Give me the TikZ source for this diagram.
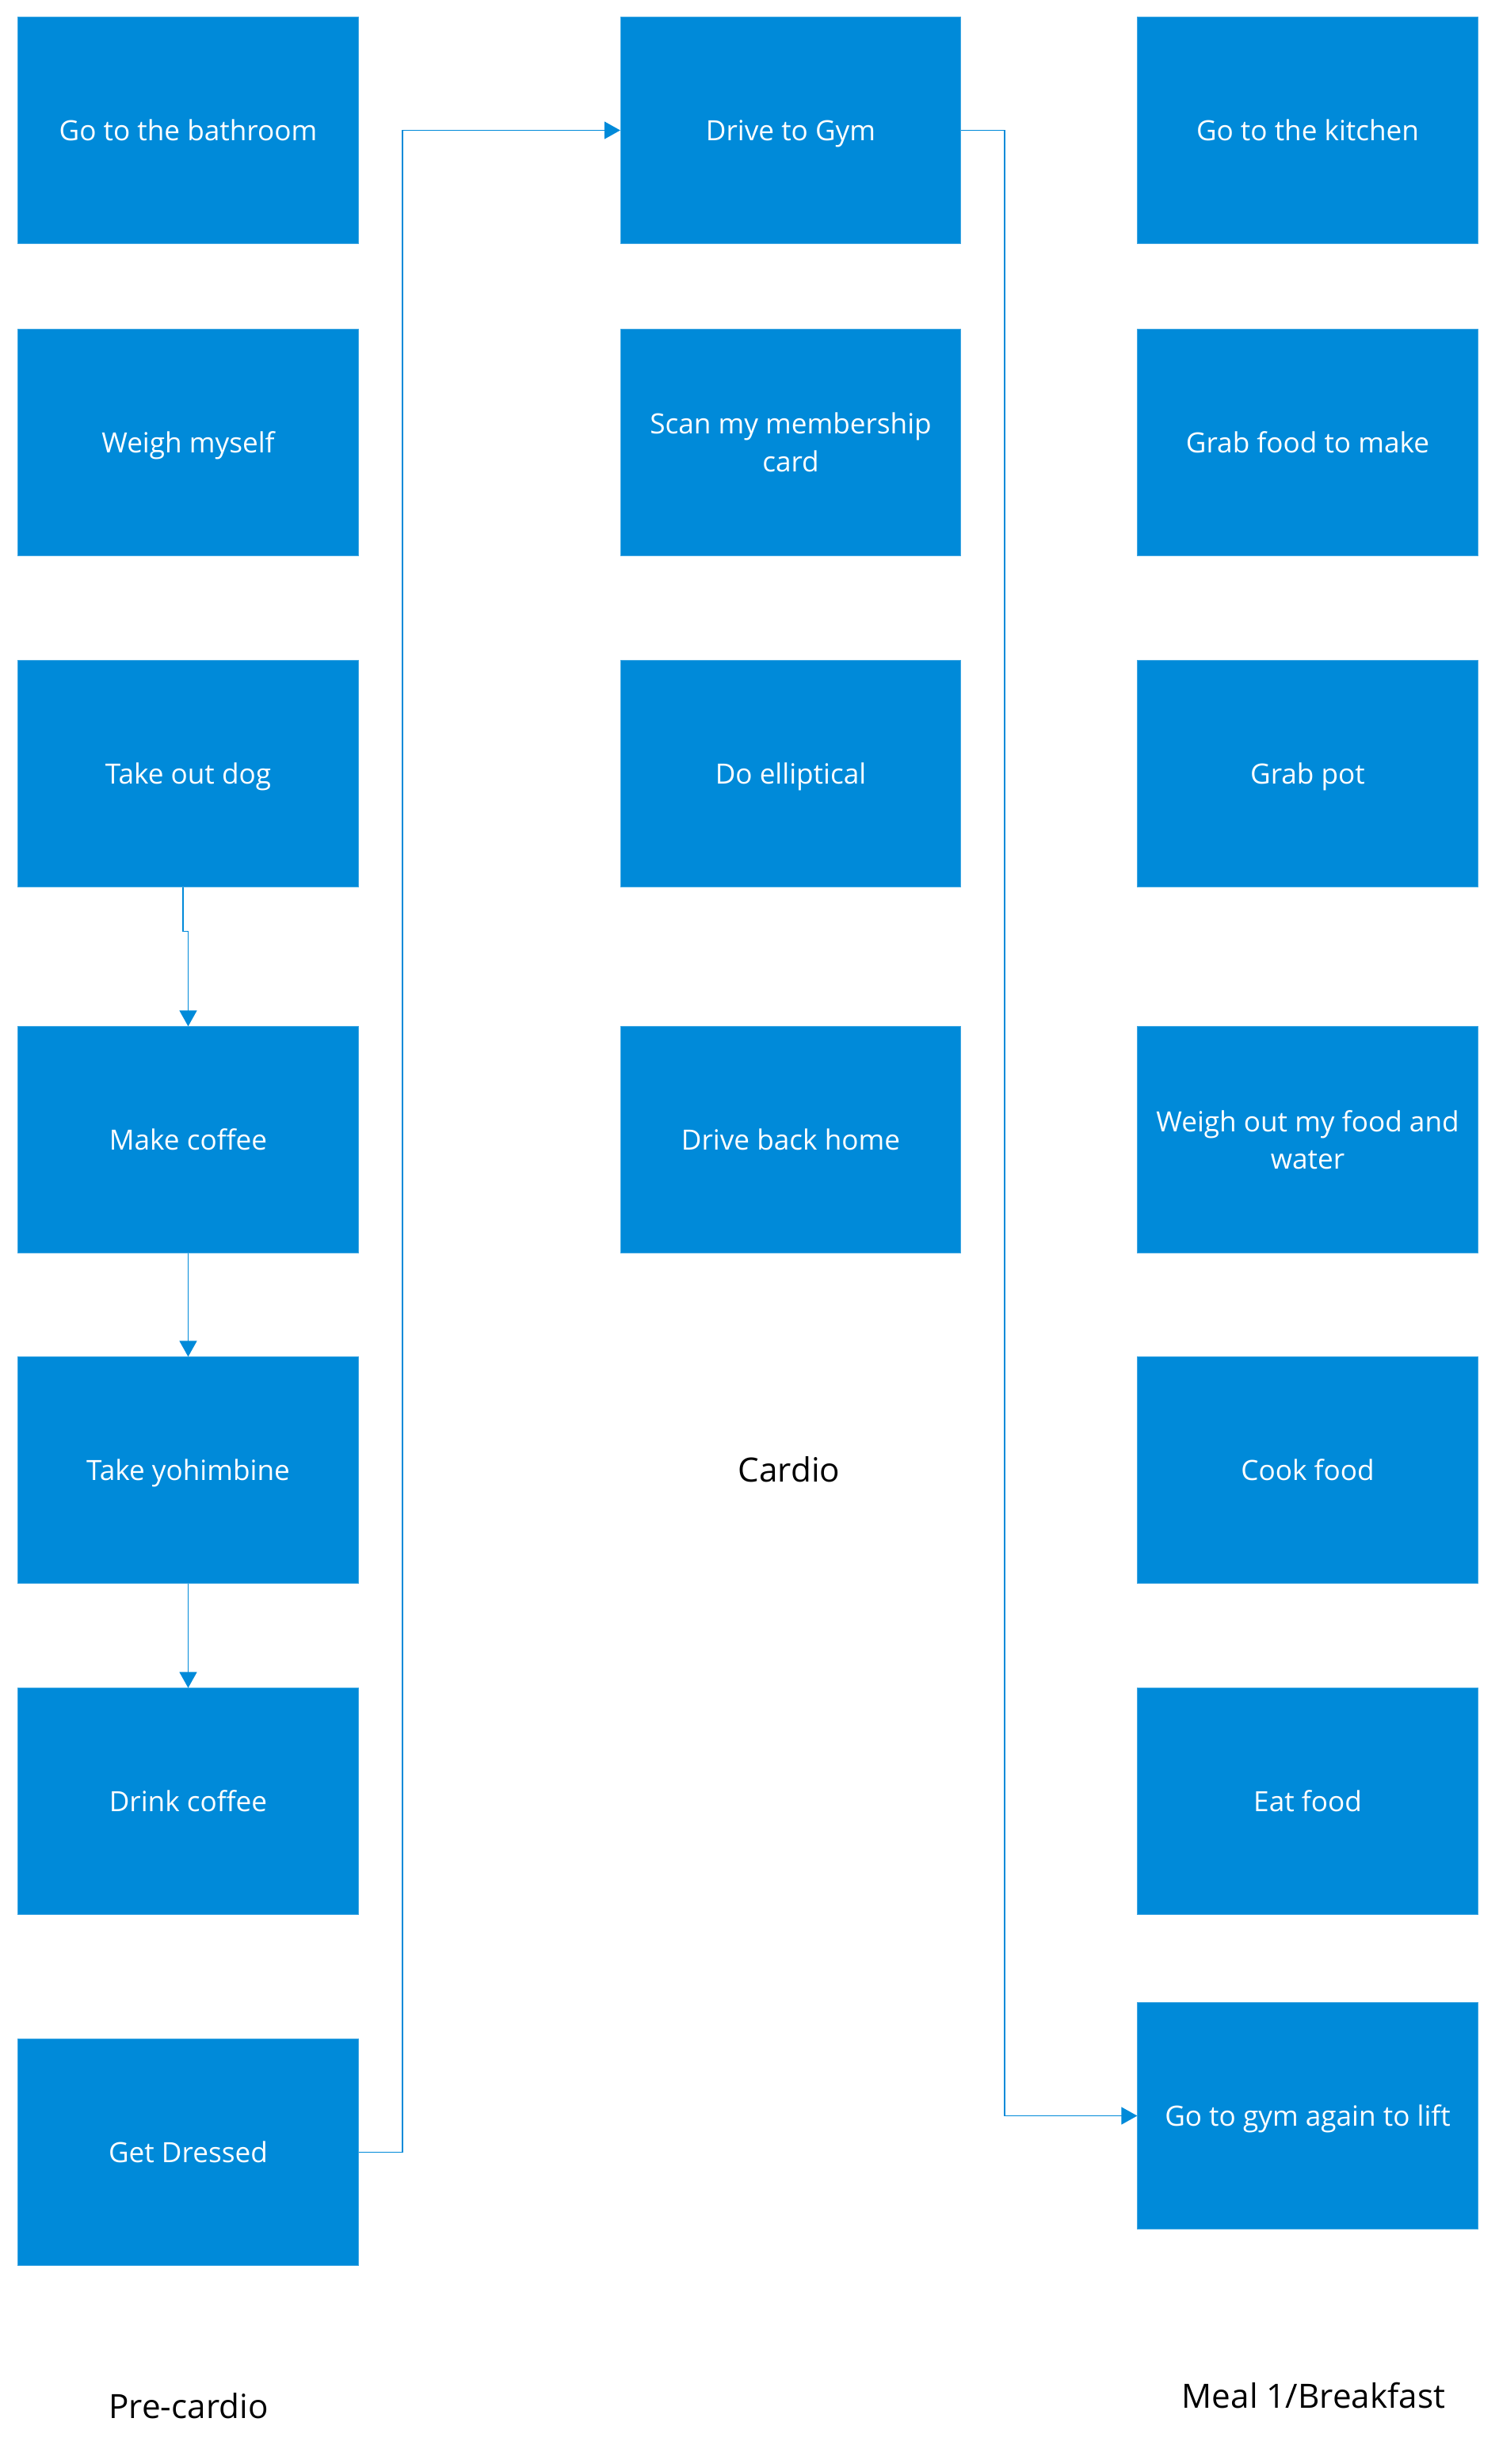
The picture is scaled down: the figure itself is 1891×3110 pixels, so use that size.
\documentclass[tikz,border=0pt]{standalone}
\usepackage{fontspec}
\setmainfont{Open Sans}
\usetikzlibrary{arrows.meta}
\definecolor{taskblue}{RGB}{0,138,217}

\begin{document}
\begin{tikzpicture}[x=0.01cm,y=-0.01cm,
    task/.style={fill=taskblue,draw=taskblue!75!white,line width=0.3pt,text=white,
      minimum width=4.29cm,minimum height=2.85cm,inner sep=0pt,align=center,
      font=\fontsize{10pt}{13.5pt}\selectfont},
    oneline/.style={task,text height=0.74em,text depth=0pt},
    conn/.style={draw=taskblue,line width=0.4pt,-{Triangle[width=0.22cm,length=0.2cm]}},
    phase/.style={font=\fontsize{12pt}{14pt}\selectfont}]
    \useasboundingbox (0,0) rectangle (1891,3110);

    % Pre-cardio
    \node[oneline] (bath) at (237.5,164.5) {Go to the bathroom};
    \node[oneline] (weigh) at (237.5,558.5) {Weigh myself};
    \node[oneline] (dog) at (237.5,976.5) {Take out dog};
    \node[oneline] (coffee) at (237.5,1438.5) {Make coffee};
    \node[oneline] (yohim) at (237.5,1855.5) {Take yohimbine};
    \node[oneline] (drink) at (237.5,2273.5) {Drink coffee};
    \node[oneline] (dress) at (237.5,2716.5) {Get Dressed};

    % Cardio
    \node[oneline] (gym) at (998,164.5) {Drive to Gym};
    \node[task] (scan) at (998,558.5) {Scan my membership\\card};
    \node[oneline] (ellip) at (998,976.5) {Do elliptical};
    \node[oneline] (home) at (998,1438.5) {Drive back home};

    % Meal 1/Breakfast
    \node[oneline] (kitchen) at (1650.5,164.5) {Go to the kitchen};
    \node[oneline] (grab) at (1650.5,558.5) {Grab food to make};
    \node[oneline] (pot) at (1650.5,976.5) {Grab pot};
    \node[task] (weighfood) at (1650.5,1438.5) {Weigh out my food and\\water};
    \node[oneline] (cook) at (1650.5,1855.5) {Cook food};
    \node[oneline] (eat) at (1650.5,2273.5) {Eat food};
    \node[oneline] (lift) at (1650.5,2670.5) {Go to gym again to lift};

    % Labels
    \node[phase] (lblpre) at (238,3037) {Pre-cardio};
    \node[phase] (lblcardio) at (996,1855) {Cardio};
    \node[phase] (lblmeal) at (1658,3024) {Meal 1/Breakfast};

    % Connectors
    \draw[conn] ([xshift=-0.065cm]dog.south) -- ++(0,56) -| (coffee.north);
    \draw[conn] (coffee) -- (yohim);
    \draw[conn] (yohim) -- (drink);
    \draw[conn] (dress.east) -- (508,2716.5) |- (gym.west);
    \draw[conn] (gym.east) -- (1268,164.5) |- (lift.west);
\end{tikzpicture}
\end{document}
